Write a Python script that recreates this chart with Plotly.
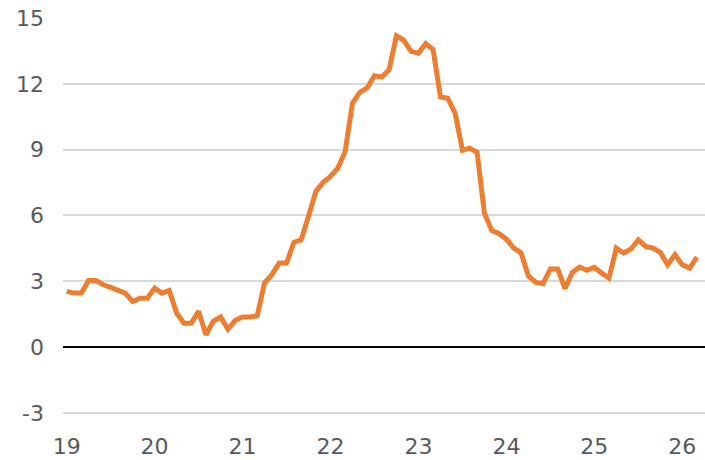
import plotly.graph_objects as go

# Monthly values, Jan 2019 .. Mar 2026
values = [
    # 2019
    2.54, 2.46, 2.46, 3.04, 3.04, 2.84, 2.72, 2.61, 2.46, 2.08, 2.23, 2.23,
    # 2020
    2.69, 2.46, 2.58, 1.55, 1.09, 1.09, 1.63, 0.56, 1.17, 1.37, 0.82, 1.22,
    # 2021
    1.37, 1.37, 1.43, 2.92, 3.30, 3.83, 3.83, 4.77, 4.89, 5.96, 7.10, 7.51,
    # 2022
    7.78, 8.16, 8.92, 11.12, 11.61, 11.81, 12.37, 12.31, 12.64, 14.19, 13.98, 13.48,
    # 2023
    13.40, 13.83, 13.56, 11.40, 11.34, 10.67, 8.97, 9.07, 8.88, 6.11, 5.32, 5.17,
    # 2024
    4.92, 4.51, 4.29, 3.25, 2.95, 2.89, 3.56, 3.56, 2.67, 3.40, 3.65, 3.50,
    # 2025
    3.63, 3.37, 3.15, 4.51, 4.29, 4.47, 4.89, 4.59, 4.51, 4.32, 3.75, 4.21,
    # 2026
    3.75, 3.60, 4.10,
]
months = list(range(len(values)))

year_ticks = [0, 12, 24, 36, 48, 60, 72, 84]
year_labels = ["19", "20", "21", "22", "23", "24", "25", "26"]
y_ticks = [-3, 0, 3, 6, 9, 12, 15]

fig = go.Figure()
fig.add_trace(go.Scatter(
    x=months, y=values, mode="lines",
    line=dict(color="#ED7D31", width=5),
    hoverinfo="skip",
))

fig.update_layout(
    width=705, height=460,
    margin=dict(l=63, r=0, t=18, b=46, autoexpand=False),
    paper_bgcolor="white", plot_bgcolor="white",
    showlegend=False,
    font=dict(family="DejaVu Sans", size=22, color="#595959"),
)
fig.update_xaxes(
    range=[-0.5, 87.1], automargin=False,
    tickmode="array", tickvals=year_ticks, ticktext=year_labels,
    showgrid=False, zeroline=False, showline=False,
    ticks="", ticklabelstandoff=17,
)
fig.update_yaxes(
    range=[-3.05, 15], automargin=False,
    tickmode="array", tickvals=y_ticks, ticktext=[str(v) for v in y_ticks],
    showgrid=True, gridcolor="#D9D9D9", gridwidth=1.5,
    zeroline=True, zerolinecolor="#000000", zerolinewidth=2,
    showline=False, ticks="", ticklabelstandoff=18,
)

fig.write_html(
    "out.html",
    config={"displayModeBar": False},
    post_script="document.body.style.margin='0';document.body.style.overflow='hidden';",
)
